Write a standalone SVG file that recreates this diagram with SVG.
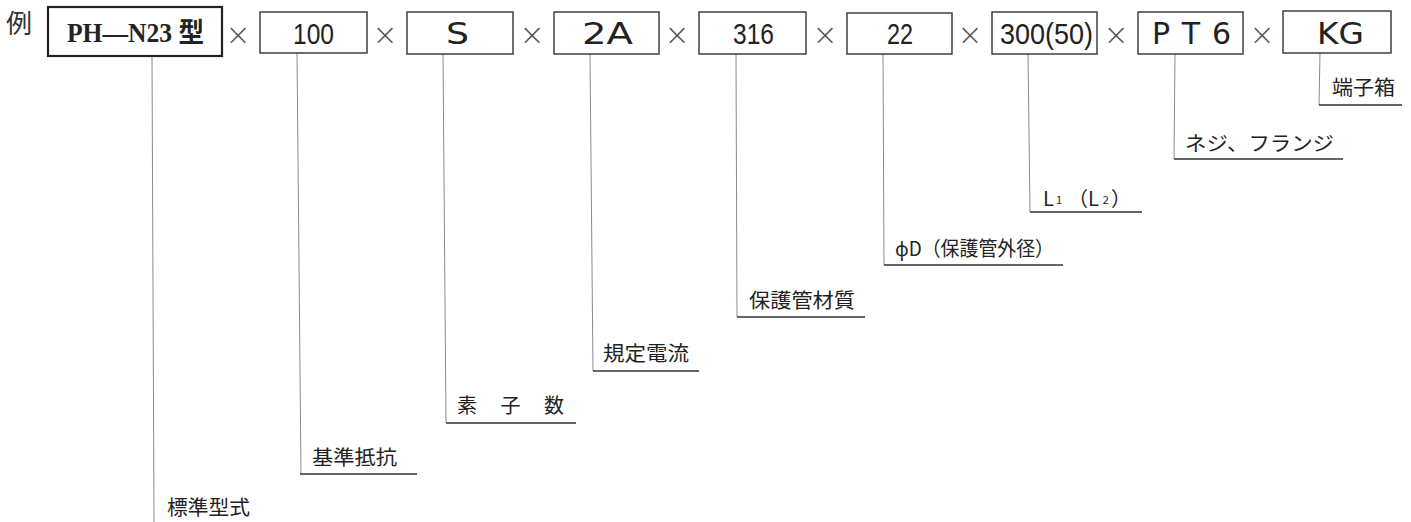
<svg xmlns="http://www.w3.org/2000/svg" width="1411" height="522" viewBox="0 0 1411 522">
<style>
.bg{fill:#fff}
.box{fill:#fff;stroke:#333;stroke-width:1.4}
.box1{fill:#fff;stroke:#222;stroke-width:2.2}
.vl{stroke:#8a8a8a;stroke-width:1;fill:none}
.ul{stroke:#333;stroke-width:1.6;fill:none}
.num{font-family:"Liberation Sans",Arial,sans-serif;font-size:30px;fill:#222}
.geo{font-family:"DejaVu Sans","Liberation Sans",sans-serif;font-size:30px;fill:#222}
.x{font-family:"DejaVu Sans","Liberation Sans",sans-serif;font-size:30px;font-weight:200;fill:#555;text-anchor:middle}
.lbl{font-family:"Noto Sans CJK JP","Noto Sans",sans-serif;font-size:20px;fill:#222}
.rei{font-family:"Noto Sans CJK JP",sans-serif;font-size:26px;fill:#333}
.ser{font-family:"Liberation Serif","Noto Sans CJK JP",serif;font-size:27px;font-weight:bold;fill:#222}
</style>
<rect class="bg" x="0" y="0" width="1411" height="522"/>
<text class="rei" x="6" y="33">例</text>
<g id="connectors">
<line class="vl" x1="152" y1="56" x2="154" y2="522"/>
<line class="vl" x1="297" y1="53" x2="301" y2="474"/>
<line class="ul" x1="300" y1="474" x2="417" y2="474"/>
<line class="vl" x1="443" y1="54" x2="446" y2="423"/>
<line class="ul" x1="446" y1="423" x2="576" y2="423"/>
<line class="vl" x1="590" y1="54" x2="593" y2="371"/>
<line class="ul" x1="593" y1="371" x2="699" y2="371"/>
<line class="vl" x1="736" y1="54" x2="737" y2="317"/>
<line class="ul" x1="737" y1="317" x2="865" y2="317"/>
<line class="vl" x1="883" y1="54" x2="884" y2="265"/>
<line class="ul" x1="884" y1="265" x2="1063" y2="265"/>
<line class="vl" x1="1028" y1="54" x2="1030" y2="212"/>
<line class="ul" x1="1030" y1="212" x2="1142" y2="212"/>
<line class="vl" x1="1175" y1="54" x2="1174" y2="159"/>
<line class="ul" x1="1174" y1="159" x2="1343" y2="159"/>
<line class="vl" x1="1320" y1="53" x2="1319" y2="105"/>
<line class="ul" x1="1319" y1="105" x2="1402" y2="105"/>
</g>
<g id="multipliers">
<text class="x" x="238" y="45">×</text>
<text class="x" x="385" y="45">×</text>
<text class="x" x="532" y="45">×</text>
<text class="x" x="677" y="45">×</text>
<text class="x" x="825" y="45">×</text>
<text class="x" x="970" y="45">×</text>
<text class="x" x="1116" y="45">×</text>
<text class="x" x="1262" y="45">×</text>
</g>
<g id="n-model">
<rect class="box1" x="48" y="7" width="174" height="49"/>
<text class="ser" x="67" y="42" textLength="137" lengthAdjust="spacingAndGlyphs">PH—N23 型</text>
<text class="lbl" x="167" y="515" textLength="83" lengthAdjust="spacingAndGlyphs">標準型式</text>
</g>
<g id="n-resistance">
<rect class="box" x="260" y="12" width="107" height="41"/>
<text class="num" x="293" y="44" textLength="41" lengthAdjust="spacingAndGlyphs">100</text>
<text class="lbl" x="312" y="465" textLength="85" lengthAdjust="spacingAndGlyphs">基準抵抗</text>
</g>
<g id="n-elements">
<rect class="box" x="407" y="12" width="106" height="42"/>
<text class="geo" x="446" y="44" textLength="23" lengthAdjust="spacingAndGlyphs">S</text>
<text class="lbl" x="457" y="413" textLength="107" lengthAdjust="spacing">素 子 数</text>
</g>
<g id="n-current">
<rect class="box" x="554" y="12" width="105" height="42"/>
<text class="geo" x="582" y="44" textLength="51" lengthAdjust="spacingAndGlyphs">2A</text>
<text class="lbl" x="603" y="361" textLength="86" lengthAdjust="spacingAndGlyphs">規定電流</text>
</g>
<g id="n-material">
<rect class="box" x="699" y="12" width="107" height="42"/>
<text class="num" x="733" y="44" textLength="41" lengthAdjust="spacingAndGlyphs">316</text>
<text class="lbl" x="749" y="308" textLength="106" lengthAdjust="spacingAndGlyphs">保護管材質</text>
</g>
<g id="n-diameter">
<rect class="box" x="847" y="13" width="105" height="41"/>
<text class="num" x="887" y="44" textLength="26" lengthAdjust="spacingAndGlyphs">22</text>
<text class="lbl" x="895" y="256" textLength="159" lengthAdjust="spacingAndGlyphs">ϕD（保護管外径）</text>
</g>
<g id="n-length">
<rect class="box" x="992" y="12" width="105" height="42"/>
<text class="num" x="1000" y="44" textLength="93" lengthAdjust="spacingAndGlyphs">300(50)</text>
<text class="lbl" x="1043" y="206">L<tspan font-size="11" dy="-2" dx="2">1</tspan><tspan dy="2" dx="6">（L</tspan><tspan font-size="11" dy="-2" dx="4">2</tspan><tspan dy="2" dx="2">）</tspan></text>
</g>
<g id="n-thread">
<rect class="box" x="1138" y="12" width="105" height="42"/>
<text class="geo" x="1152" y="44" textLength="79" lengthAdjust="spacing">PT6</text>
<text class="lbl" x="1185" y="151" textLength="149" lengthAdjust="spacingAndGlyphs">ネジ、フランジ</text>
</g>
<g id="n-terminal">
<rect class="box" x="1283" y="11" width="108" height="42"/>
<text class="geo" x="1317" y="44" textLength="47" lengthAdjust="spacingAndGlyphs">KG</text>
<text class="lbl" x="1332" y="95" textLength="63" lengthAdjust="spacingAndGlyphs">端子箱</text>
</g>
</svg>
